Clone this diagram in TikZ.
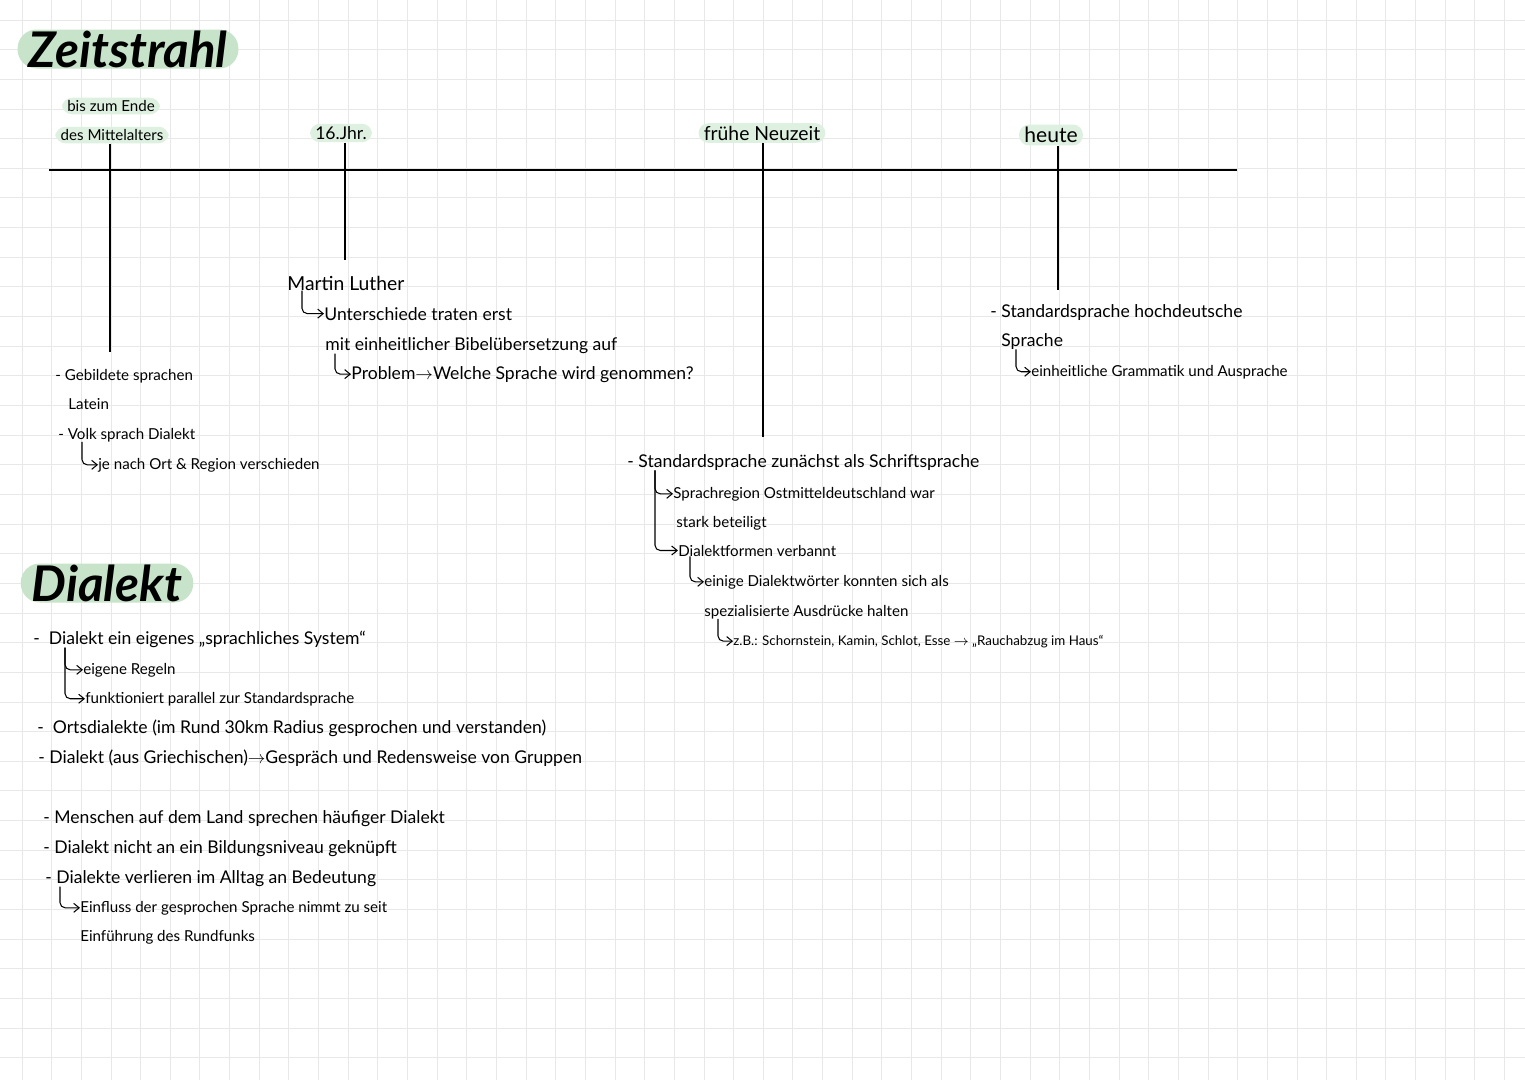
\documentclass[tikz,border=0pt]{standalone}
\usepackage{fontspec}
\setmainfont{Lato}
\usetikzlibrary{arrows.meta, positioning}
\definecolor{pillgreen}{RGB}{199,228,202}
\definecolor{softgreen}{RGB}{222,240,224}
\definecolor{gridgray}{RGB}{232,232,232}

\begin{document}
\begin{tikzpicture}[
    x=0.02cm, y=-0.02cm,
    note/.style={anchor=base west, inner sep=0pt, font=\fontsize{10}{12}\selectfont},
    smallnote/.style={note, font=\fontsize{8.6}{10}\selectfont},
    tinynote/.style={note, font=\fontsize{7.6}{9}\selectfont},
    title/.style={fill=pillgreen, rounded corners=0.38cm, minimum height=0.78cm, inner xsep=0.22cm, inner ysep=0pt, font=\fontsize{28}{32}\selectfont\bfseries\itshape},
    era/.style={fill=softgreen, rounded corners=0.2cm, inner xsep=3pt, inner ysep=1.5pt, font=\fontsize{8.6}{10}\selectfont},
    axis/.style={line width=1.1pt},
    hook/.style={-{Straight Barb[length=1.1mm, width=1.8mm]}, line width=0.6pt, rounded corners=3pt},
    gridline/.style={draw=gridgray, line width=0.5pt}
]
    \useasboundingbox (0,0) rectangle (1525,1080);
    \fill[white] (0,0) rectangle (1525,1080);
    \begin{scope}
        \clip (0,0) rectangle (1525,1080);
        \foreach \gx in {0,...,51} \draw[gridline] ({22+29.65*\gx},0) -- ({22+29.65*\gx},1080);
        \foreach \gy in {0,...,36} \draw[gridline] (0,{20+29.65*\gy}) -- (1525,{20+29.65*\gy});
    \end{scope}

    \node[title] (zeit) at (128,49) {Zeitstrahl};

    \coordinate (tl-a) at (49,170);
    \coordinate (tl-b) at (1237,170);
    \draw[axis] (tl-a) -- (tl-b);

    \node[era] (ende) at (111,106) {bis zum Ende};
    \node[era] (mittel) at (112,135) {des Mittelalters};
    \node[era, font=\fontsize{10}{12}\selectfont] (jhr) at (341,133) {16.Jhr.};
    \node[era, font=\fontsize{11}{13}\selectfont] (neuzeit) at (762,133) {frühe Neuzeit};
    \node[era, font=\fontsize{12}{14}\selectfont] (heute) at (1051,135) {heute};

    \coordinate (t-mittel) at (110,352);
    \coordinate (t-jhr) at (345,260);
    \coordinate (t-neuzeit) at (763,437);
    \coordinate (t-heute) at (1058,290);
    \draw[axis] (mittel.south -| t-mittel) -- (t-mittel);
    \draw[axis] (jhr.south -| t-jhr) -- (t-jhr);
    \draw[axis] (neuzeit.south -| t-neuzeit) -- (t-neuzeit);
    \draw[axis] (heute.south -| t-heute) -- (t-heute);

    \node[smallnote] (gebildet) at (55,380) {- Gebildete sprachen};
    \node[smallnote] (latein) at (68,409) {Latein};
    \node[smallnote] (volk) at (58,439) {- Volk sprach Dialekt};
    \node[smallnote] (ort) at (98,469) {je nach Ort \& Region verschieden};
    \draw[hook] ([xshift=0.48cm]volk.south west) |- (ort.west);

    \node[note, font=\fontsize{11}{13}\selectfont] (luther) at (287,290) {Martin Luther};
    \node[note] (unter) at (324,320) {Unterschiede traten erst};
    \node[note] (bibel) at (325,350) {mit einheitlicher Bibelübersetzung auf};
    \node[note] (problem) at (351,379) {Problem$\rightarrow$Welche Sprache wird genommen?};
    \draw[hook] ([xshift=0.3cm]luther.south west) |- (unter.west);
    \draw[hook] ([xshift=0.2cm]bibel.south west) |- (problem.west);

    \node[note] (schrift) at (627,467) {- Standardsprache zunächst als Schriftsprache};
    \node[smallnote] (region) at (673,498) {Sprachregion Ostmitteldeutschland war};
    \node[smallnote] (stark) at (676,527) {stark beteiligt};
    \node[smallnote] (formen) at (678,556) {Dialektformen verbannt};
    \node[smallnote] (einige) at (704,586) {einige Dialektwörter konnten sich als};
    \node[smallnote] (spez) at (704,616) {spezialisierte Ausdrücke halten};
    \node[tinynote] (zb) at (733,645) {z.B.: Schornstein, Kamin, Schlot, Esse $\rightarrow$ „Rauchabzug im Haus“};
    \draw[hook] ([xshift=0.56cm]schrift.south west) |- (region.west);
    \draw[hook] ([xshift=0.56cm]schrift.south west) |- (formen.west);
    \draw[hook] ([xshift=0.24cm]formen.south west) |- (einige.west);
    \draw[hook] ([xshift=0.28cm]spez.south west) |- (zb.west);

    \node[note] (hoch) at (990,317) {- Standardsprache hochdeutsche};
    \node[note] (sprache) at (1001,346) {Sprache};
    \node[smallnote] (gramm) at (1031,376) {einheitliche Grammatik und Ausprache};
    \draw[hook] ([xshift=0.3cm]sprache.south west) |- (gramm.west);

    \node[title] (dialekt) at (107,583) {Dialekt};

    \node[note] (system) at (33,644) {-\ \ Dialekt ein eigenes „sprachliches System“};
    \node[smallnote] (regeln) at (83,674) {eigene Regeln};
    \node[smallnote] (parallel) at (85,703) {funktioniert parallel zur Standardsprache};
    \draw[hook] ([xshift=0.64cm]system.south west) |- (regeln.west);
    \draw[hook] ([xshift=0.64cm]system.south west) |- (parallel.west);
    \node[note] (orts) at (37,733) {-\ \ Ortsdialekte (im Rund 30km Radius gesprochen und verstanden)};
    \node[note] (griech) at (38,763) {- Dialekt (aus Griechischen)$\rightarrow$Gespräch und Redensweise von Gruppen};

    \node[note] (land) at (43,823) {- Menschen auf dem Land sprechen häufiger Dialekt};
    \node[note] (niveau) at (43,853) {- Dialekt nicht an ein Bildungsniveau geknüpft};
    \node[note] (alltag) at (45,883) {- Dialekte verlieren im Alltag an Bedeutung};
    \node[smallnote] (einfluss) at (80,912) {Einfluss der gesprochen Sprache nimmt zu seit};
    \node[smallnote] (rundfunk) at (80,941) {Einführung des Rundfunks};
    \draw[hook] ([xshift=0.3cm]alltag.south west) |- (einfluss.west);
\end{tikzpicture}
\end{document}
